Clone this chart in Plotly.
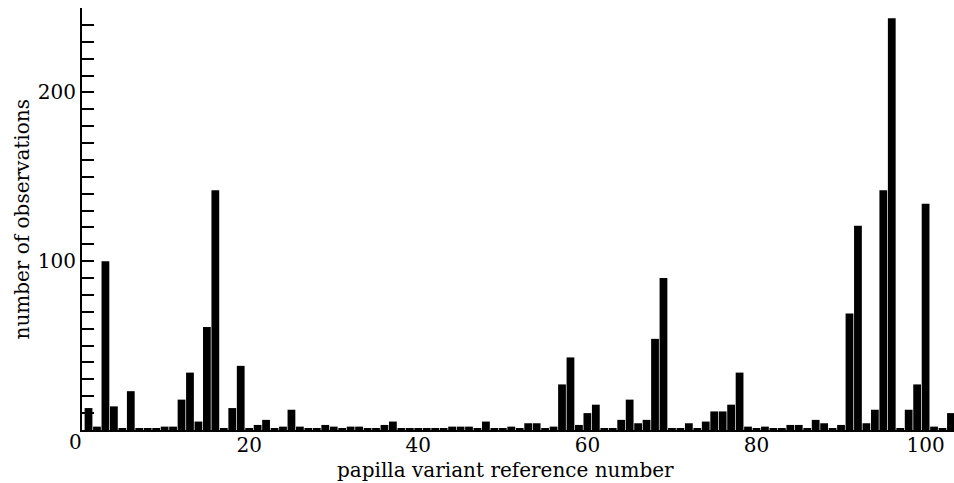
import plotly.graph_objects as go

# Papilla variant counts, variants numbered 1..103
variant_numbers = list(range(1, 104))
observations = [
    13, 2, 100, 14, 1, 23, 1, 1, 1, 2,
    2, 18, 34, 5, 61, 142, 1, 13, 38, 1,
    3, 6, 1, 2, 12, 2, 1, 1, 3, 2,
    1, 2, 2, 1, 1, 3, 5, 1, 1, 1,
    1, 1, 1, 2, 2, 2, 1, 5, 1, 1,
    2, 1, 4, 4, 1, 2, 27, 43, 3, 10,
    15, 1, 1, 6, 18, 4, 6, 54, 90, 1,
    1, 4, 1, 5, 11, 11, 15, 34, 2, 1,
    2, 1, 1, 3, 3, 1, 6, 4, 1, 3,
    69, 121, 4, 12, 142, 244, 1, 12, 27, 134,
    2, 1, 10,
]

x_tick_values = [20, 40, 60, 80, 100]
y_tick_values = [100, 200]
y_tick_labels = ["100", "200"]

x_title = "papilla variant reference number"
y_title = "number of observations"

FONT = "DejaVu Serif"
W, H = 954, 483
ML, MR, MT, MB = 82, 0, 8, 53
PW, PH = W - ML - MR, H - MT - MB


def px_to_paper_x(px):
    return (px - ML) / PW


def px_to_paper_y(py):
    return (H - MB - py) / PH


fig = go.Figure()
fig.add_trace(
    go.Bar(
        x=variant_numbers,
        y=observations,
        marker=dict(color="black", line=dict(width=0)),
        showlegend=False,
    )
)

fig.update_layout(
    width=W,
    height=H,
    margin=dict(l=ML, r=MR, t=MT, b=MB, pad=0),
    paper_bgcolor="white",
    plot_bgcolor="white",
    bargap=0.08,
    font=dict(family=FONT, size=20, color="black"),
    xaxis=dict(
        range=[0.23, 103.36],
        tickvals=x_tick_values,
        ticks="",
        ticklabelstandoff=-4,
        showline=True,
        linecolor="black",
        linewidth=1.5,
        showgrid=False,
        zeroline=False,
        tickfont=dict(family=FONT, size=20, color="black"),
    ),
    yaxis=dict(
        range=[0, 250],
        tickvals=y_tick_values,
        ticktext=y_tick_labels,
        ticks="inside",
        ticklen=12,
        tickwidth=1.5,
        tickcolor="black",
        minor=dict(dtick=10, ticks="inside", ticklen=12, tickwidth=1.5,
                   tickcolor="black", showgrid=False),
        showline=True,
        linecolor="black",
        linewidth=2,
        showgrid=False,
        zeroline=False,
        tickfont=dict(family=FONT, size=20, color="black"),
    ),
    annotations=[
        dict(text="0", xref="paper", yref="paper",
             x=px_to_paper_x(75), y=px_to_paper_y(442),
             xanchor="center", yanchor="middle", showarrow=False,
             font=dict(family=FONT, size=20, color="black")),
        dict(text=x_title, xref="paper", yref="paper",
             x=px_to_paper_x(505), y=px_to_paper_y(470),
             xanchor="center", yanchor="middle", showarrow=False,
             font=dict(family=FONT, size=20, color="black")),
        dict(text=y_title, xref="paper", yref="paper",
             x=px_to_paper_x(21), y=px_to_paper_y(219.5),
             xanchor="center", yanchor="middle", textangle=-90,
             showarrow=False,
             font=dict(family=FONT, size=20, color="black")),
    ],
)

fig.write_html("out.html")
